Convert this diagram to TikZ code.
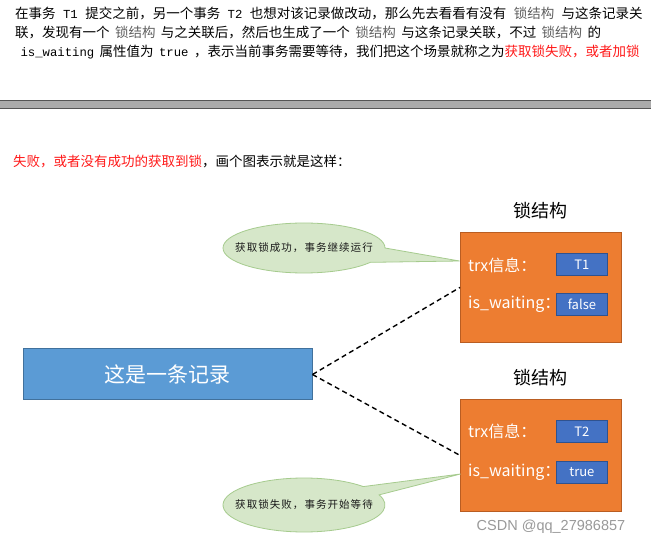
\documentclass[tikz,border=0pt]{standalone}
\usepackage{fontspec}
\setmainfont{Noto Sans CJK SC}
\newfontfamily\codefont[Scale=0.91]{Liberation Mono}
\newfontfamily\wmfont{Liberation Sans}
\definecolor{orangebox}{HTML}{ED7D31}
\definecolor{orangeline}{HTML}{B95D22}
\definecolor{bluebox}{HTML}{4472C4}
\definecolor{blueline}{HTML}{2F528F}
\definecolor{recfill}{HTML}{5B9BD5}
\definecolor{recline}{HTML}{41719C}
\definecolor{calfill}{HTML}{D6E7C9}
\definecolor{calline}{HTML}{A6CB8E}
\definecolor{redtext}{HTML}{FF1A1A}
\definecolor{codegray}{HTML}{606060}
\definecolor{bargray}{HTML}{ABABAB}
\definecolor{barline}{HTML}{555555}
\newcommand{\fs}[1]{\fontsize{#1}{#1}\selectfont}
\newcommand{\cspan}[2][0.4em]{\hspace{#1}{\color{codegray}#2}\hspace{#1}}
\newcommand{\mspan}[2][0.4em]{\hspace{#1}{\codefont #2}\hspace{#1}}
\begin{document}
\begin{tikzpicture}[x=1pt,y=1pt,
  para/.style={anchor=base west,inner sep=0pt,font=\fs{13.5},text=black},
  locklabel/.style={inner sep=0pt,font=\fs{18}},
  lockbox/.style={draw=orangeline,line width=0.8pt,fill=orangebox,anchor=north west,minimum width=161,minimum height=110,inner sep=0pt},
  lockboxb/.style={lockbox,minimum height=112},
  fieldlabel/.style={anchor=west,inner sep=0pt,text=white,font=\fs{16}},
  valbox/.style={draw=blueline,line width=0.8pt,fill=bluebox,anchor=north west,minimum width=51,minimum height=22,inner sep=0pt,text=white,font=\fs{13}},
  recbox/.style={draw=recline,line width=1pt,fill=recfill,minimum width=289,minimum height=51,inner sep=0pt,text=white,font=\fs{21}},
  link/.style={dashed,dash pattern=on 5pt off 3.5pt,line width=1.4pt,black},
  callshape/.style={draw=calline,line width=0.8pt,fill=calfill},
  calltext/.style={inner sep=0pt,font=\fs{10.5}\addfontfeatures{LetterSpace=10},text=black!90}
]
\useasboundingbox[fill=white] (0,0) rectangle (651,-545);

% top paragraph
\node[para] (l1) at (15,-19) {在事务\mspan[0.55em]{T1}提交之前，另一个事务\mspan[0.55em]{T2}也想对该记录做改动，那么先去看看有没有\cspan[0.55em]{锁结构}与这条记录关};
\node[para] (l2) at (15,-38) {联，发现有一个\cspan{锁结构}与之关联后，然后也生成了一个\cspan{锁结构}与这条记录关联，不过\cspan{锁结构}的};
\node[para] (l3) at (15,-57) {\mspan{is\_waiting}属性值为\mspan{true}，表示当前事务需要等待，我们把这个场景就称之为{\color{redtext}获取锁失败，或者加锁}};

% gray separator bar
\fill[bargray] (0,-100) rectangle (651,-108);
\draw[barline,line width=0.8pt] (0,-100) -- (651,-100);
\draw[barline,line width=0.8pt] (0,-108) -- (651,-108);

\node[para] (l4) at (13,-167) {{\color{redtext}失败，或者没有成功的获取到锁}，画个图表示就是这样：};

% lock structure 1
\node[locklabel] (lab1) at (540,-211) {锁结构};
\node[lockbox] (lock1) at (460,-232) {};
\node[fieldlabel] (trx1) at (468,-265) {trx信息：};
\node[valbox] (v1) at (556,-253) {T1};
\node[fieldlabel] (w1) at (468,-304) {is\_waiting：};
\node[valbox] (v2) at (556,-293) {false};

% lock structure 2
\node[locklabel] (lab2) at (540,-378) {锁结构};
\node[lockboxb] (lock2) at (460,-399) {};
\node[fieldlabel] (trx2) at (468,-431) {trx信息：};
\node[valbox] (v3) at (556,-420) {T2};
\node[fieldlabel] (w2) at (468,-472) {is\_waiting：};
\node[valbox] (v4) at (556,-461) {true};

% record
\node[recbox] (rec) at (167.5,-374.5) {这是一条记录};

% dashed connectors
\draw[link] (rec.east) -- (lock1.west);
\draw[link] (rec.east) -- (lock2.west);

% callout 1
\coordinate (c1) at (304,-248);
\coordinate (tip1) at (459.5,-261);
\draw[callshape] (c1) ++(0:81 and 25) arc[start angle=0,end angle=325,x radius=81,y radius=25] -- (tip1) -- cycle;
\node[calltext] (t1) at (c1) {获取锁成功，事务继续运行};

% callout 2
\coordinate (c2) at (304,-505);
\coordinate (tip2) at (460.5,-474);
\draw[callshape] (c2) ++(43:81 and 27) arc[start angle=43,end angle=382,x radius=81,y radius=27] -- (tip2) -- cycle;
\node[calltext] (t2) at (c2) {获取锁失败，事务开始等待};

% watermark
\node[inner sep=0pt,font=\wmfont\fs{14.5},text=black!40] (wm) at (551,-527) {CSDN @qq\_27986857};
\end{tikzpicture}
\end{document}
